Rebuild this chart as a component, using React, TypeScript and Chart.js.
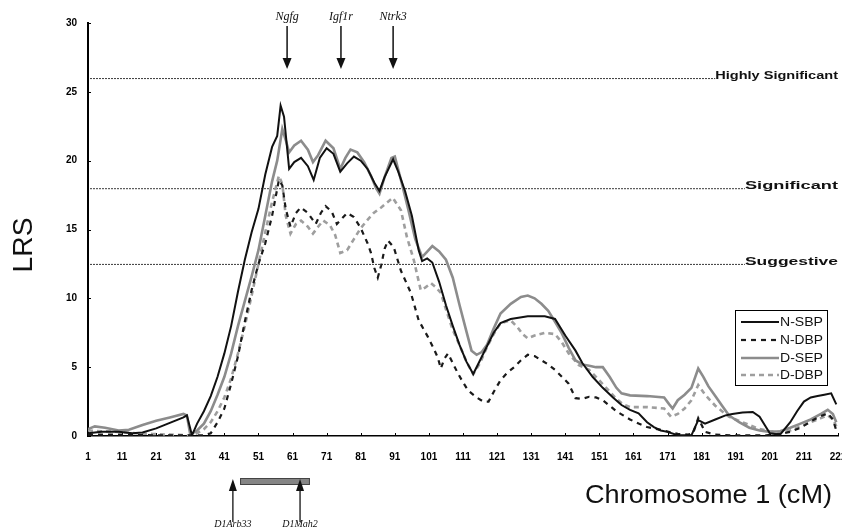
import React, { useEffect, useRef } from "react";
import { Chart, registerables } from "chart.js";

Chart.register(...registerables);

// ---- data ----
const xTickValues = [1, 11, 21, 31, 41, 51, 61, 71, 81, 91, 101, 111, 121, 131, 141, 151, 161, 171, 181, 191, 201, 211, 221];
const yMin = 0;
const yMax = 30;
const yStep = 5;

const seriesNames = ["N-SBP", "N-DBP", "D-SEP", "D-DBP"];

// [cM, LRS]
const nSbp = [
  [1, 0.2], [5, 0.3], [10, 0.3], [14, 0.2], [17, 0.25], [21, 0.55], [25, 0.95], [29, 1.35], [30, 1.5], [31.5, 0.05],
  [33, 0.9], [35, 1.8], [37, 2.9], [39, 4.3], [41, 6.0], [43, 8.0], [45, 10.5], [47, 12.8], [49, 14.8], [51, 16.5],
  [53, 19.0], [55, 21.0], [56.5, 21.8], [57.5, 24.0], [58.5, 23.2], [60, 19.4], [61.5, 19.9], [63.5, 20.2], [65.5, 19.6],
  [67.2, 18.6], [69, 20.2], [71, 20.9], [73, 20.5], [75, 19.2], [77, 19.8], [79, 20.3], [81, 20.0], [83, 19.4], [85, 18.4],
  [86.5, 17.8], [88, 18.8], [90.5, 20.1], [92, 19.2], [94, 17.8], [96, 16.0], [98, 13.5], [99, 12.7], [100.5, 12.9],
  [102, 12.6], [104, 11.2], [106, 9.5], [108, 8.0], [110, 6.6], [112, 5.4], [114, 4.5], [116, 5.5], [118, 6.5], [120, 7.5],
  [122, 8.2], [125, 8.5], [130, 8.7], [135, 8.7], [138, 8.5], [141, 7.3], [144, 6.2], [146, 5.3], [149, 4.3], [152, 3.5],
  [155, 2.8], [157.5, 2.25], [160, 1.9], [162.5, 1.65], [165, 1.0], [167, 0.65], [169, 0.4], [171, 0.3], [174, 0.05],
  [178, 0.05], [180, 1.15], [182, 0.9], [185, 1.2], [188, 1.5], [190, 1.6], [193, 1.7], [196, 1.75], [198, 1.4], [199.5, 0.8],
  [201, 0.2], [204, 0.1], [207, 1.0], [209, 1.8], [211, 2.5], [213, 2.8], [215, 2.9], [217, 3.0], [219, 3.1], [220.5, 2.3],
];

const nDbp = [
  [1, 0.1], [10, 0.1], [20, 0.05], [30, 0.05], [35, 0.05], [37, 0.2], [39, 1.0], [41, 2.0], [43, 3.8], [45, 5.8],
  [47, 8.3], [49, 10.6], [51, 12.5], [53, 14.0], [55, 16.0], [57, 18.6], [58, 18.2], [59, 16.5], [60.4, 15.2], [62, 16.2],
  [63.4, 16.6], [65.5, 16.2], [67.8, 15.4], [69.3, 16.2], [70.7, 16.7], [72.5, 16.3], [74, 15.4], [75.5, 15.8], [77, 16.2],
  [79, 15.9], [81, 15.1], [83, 14.0], [84, 13.3], [85, 12.2], [86, 11.5], [87, 12.4], [88, 13.6], [89, 14.2], [90.7, 13.7],
  [92.8, 12.0], [95.7, 10.4], [98, 8.4], [100.7, 7.2], [102.5, 6.3], [103.6, 5.7], [104.5, 4.9], [105.5, 5.6], [106.6, 6.0],
  [108, 5.3], [109.5, 4.55], [111, 3.9], [112.5, 3.3], [115, 2.8], [117, 2.5], [118.5, 2.5], [120, 3.2], [122, 4.05],
  [124, 4.6], [126, 5.0], [128, 5.5], [130, 5.9], [132, 5.8], [134, 5.5], [136, 5.2], [138, 4.8], [140, 4.3], [142, 3.8],
  [144, 2.75], [146, 2.7], [148, 2.85], [150, 2.8], [152, 2.6], [154, 2.2], [156, 1.8], [158, 1.5], [160, 1.2], [162.5, 0.9],
  [165, 0.65], [168, 0.5], [170, 0.4], [172, 0.25], [174, 0.15], [177, 0.1], [178.5, 0.2], [180, 1.3], [181, 0.8], [182, 0.3],
  [185, 0.1], [190, 0.05], [195, 0.05], [200, 0.05], [204, 0.15], [207, 0.3], [210, 0.6], [212, 0.9], [214, 1.2], [216, 1.45],
  [218, 1.65], [219.5, 1.2], [220.5, 0.4],
];

const dSep = [
  [1, 0.5], [3, 0.7], [6, 0.6], [10, 0.4], [13, 0.45], [17, 0.8], [21, 1.1], [25, 1.35], [29, 1.6], [30, 1.5], [31, 0.1],
  [33, 0.4], [35, 0.9], [37, 1.8], [39, 3.0], [41, 4.3], [43, 6.0], [45, 8.0], [47, 9.8], [49, 11.6], [51, 13.5], [53, 16.0],
  [55, 18.5], [56.5, 20.0], [58, 22.3], [59, 21.5], [60, 20.6], [61.5, 21.1], [63.5, 21.45], [65.5, 20.8], [67, 19.9],
  [68.5, 20.4], [70.7, 21.45], [73, 20.9], [75, 19.4], [76.5, 20.2], [78, 20.8], [80, 20.6], [82, 19.9], [84, 18.9],
  [85.5, 18.0], [86.5, 17.6], [88, 18.8], [90, 20.2], [91, 20.3], [93, 18.4], [95, 16.4], [97, 14.3], [99, 13.0],
  [100.5, 13.4], [102, 13.8], [104, 13.4], [106, 12.8], [108, 11.5], [110, 9.5], [112, 7.6], [113.5, 6.2], [115, 5.9],
  [116.5, 6.1], [118, 6.6], [120, 7.8], [122, 8.9], [125, 9.6], [128, 10.1], [130, 10.2], [132, 10.0], [134, 9.6], [136, 9.1],
  [138, 8.3], [140, 7.45], [142, 6.4], [144, 5.5], [146, 5.2], [148, 5.1], [150, 5.0], [152, 5.0], [154, 4.3], [156, 3.5],
  [157.5, 3.1], [160, 2.95], [165, 2.9], [170, 2.8], [171.5, 2.3], [172.5, 2.0], [174, 2.6], [176, 3.0], [178, 3.5],
  [180, 4.9], [181.5, 4.3], [183, 3.6], [185, 2.9], [187, 2.2], [189, 1.5], [192, 1.0], [195, 0.6], [198, 0.4], [201, 0.3],
  [204, 0.35], [207, 0.6], [210, 0.9], [213, 1.2], [216, 1.6], [218, 1.9], [219.5, 1.6], [220.5, 1.0],
];

const dDbp = [
  [1, 0.4], [5, 0.35], [10, 0.3], [15, 0.2], [20, 0.15], [25, 0.1], [31, 0.05], [33, 0.2], [35, 0.5], [37, 1.0], [39, 1.8],
  [41, 2.8], [43, 4.2], [45, 6.0], [47, 8.0], [49, 10.2], [51, 12.5], [53, 14.8], [55, 17.0], [57, 18.9], [58, 18.3],
  [59, 16.0], [60.4, 14.7], [62, 15.4], [63.5, 15.65], [65.5, 15.2], [67, 14.7], [68.5, 15.2], [70, 15.65], [72, 15.3],
  [73.5, 14.6], [75, 13.3], [77, 13.5], [79, 14.3], [81, 15.1], [83, 15.7], [84.8, 16.2], [87, 16.6], [90.4, 17.3],
  [92.8, 16.4], [94.5, 14.5], [96.6, 12.75], [98.6, 10.6], [100, 10.8], [101.6, 11.1], [103, 10.8], [104.5, 10.4],
  [106, 9.2], [108, 7.7], [110, 6.6], [112, 5.4], [114, 4.5], [116, 5.3], [118, 6.45], [120, 7.4], [122, 8.2], [125, 8.4],
  [127, 7.9], [128.5, 7.4], [130, 7.1], [132, 7.3], [135, 7.5], [138, 7.4], [140, 6.8], [142, 6.0], [145, 5.15], [148, 4.8],
  [150, 4.3], [153, 3.5], [156, 2.7], [158, 2.3], [160, 2.1], [165, 2.1], [170, 2.0], [172, 1.4], [174, 1.6], [176, 2.0],
  [178, 2.6], [180, 3.7], [182, 3.0], [185, 2.2], [189, 1.4], [192, 1.1], [195, 0.8], [198, 0.5], [201, 0.35], [204, 0.3],
  [207, 0.4], [210, 0.7], [213, 1.0], [216, 1.3], [218, 1.5], [219.5, 1.2], [220.5, 0.7],
];

const thresholdValues = [26, 18, 12.5];
const thresholdLabels = ["Highly Significant", "Significant", "Suggestive"];
const thresholdEndCm = [185, 193.7, 193.7];

const geneNames = ["Ngfg", "Igf1r", "Ntrk3"];
const geneCm = [59.4, 75.2, 90.5];

const markerNames = ["D1Arb33", "D1Mgh2"];
const markerCm = [43.5, 63.2];
const intervalCm = [45.6, 66.1];

const yTitle = "LRS";
const xTitle = "Chromosome 1 (cM)";

// ---- styles ----
const seriesStyles = [
  { color: "#111111", width: 2, dash: [] as number[] },
  { color: "#1a1a1a", width: 2.2, dash: [5, 5] },
  { color: "#8c8c8c", width: 2.6, dash: [] as number[] },
  { color: "#9e9e9e", width: 2.6, dash: [5, 4] },
];

function fitText(ctx: CanvasRenderingContext2D, text: string, x: number, y: number, width: number, align: CanvasTextAlign) {
  const m = ctx.measureText(text).width;
  const s = width / m;
  ctx.save();
  ctx.translate(x, y);
  ctx.scale(s, 1);
  ctx.textAlign = align;
  ctx.fillText(text, 0, 0);
  ctx.restore();
}

const overlayPlugin = {
  id: "overlay",
  beforeDatasetsDraw(chart: any) {
    const { ctx, chartArea, scales } = chart;
    const xs = scales.x;
    const ys = scales.y;
    ctx.save();
    thresholdValues.forEach((v, i) => {
      const y = ys.getPixelForValue(v);
      const x1 = xs.getPixelForValue(thresholdEndCm[i]);
      ctx.strokeStyle = "#3a3a3a";
      ctx.lineWidth = 1;
      ctx.setLineDash([2, 1]);
      ctx.beginPath();
      ctx.moveTo(chartArea.left + 2, y + 0.5);
      ctx.lineTo(x1, y + 0.5);
      ctx.stroke();
      ctx.setLineDash([]);
      ctx.fillStyle = "#111";
      ctx.font = 'bold 11px "Liberation Sans", Arial, sans-serif';
      ctx.textBaseline = "alphabetic";
      const right = chartArea.right;
      fitText(ctx, thresholdLabels[i], right, y + 1, right - x1, "right");
    });
    // tick marks
    ctx.strokeStyle = "#000";
    ctx.lineWidth = 1;
    xTickValues.forEach((v) => {
      const x = Math.round(xs.getPixelForValue(v)) + 0.5;
      ctx.beginPath();
      ctx.moveTo(x, chartArea.bottom);
      ctx.lineTo(x, chartArea.bottom - 3);
      ctx.stroke();
    });
    for (let v = yMin; v <= yMax; v += yStep) {
      const y = Math.round(ys.getPixelForValue(v)) + 0.5;
      ctx.beginPath();
      ctx.moveTo(chartArea.left, y);
      ctx.lineTo(chartArea.left + 3, y);
      ctx.stroke();
    }
    ctx.restore();
  },
  afterDatasetsDraw(chart: any) {
    const { ctx, chartArea, scales } = chart;
    const xs = scales.x;
    ctx.save();
    ctx.fillStyle = "#111";
    ctx.strokeStyle = "#111";

    // gene arrows at top
    geneNames.forEach((name, i) => {
      const x = xs.getPixelForValue(geneCm[i]);
      ctx.font = 'italic 12px "Liberation Serif", "DejaVu Serif", serif';
      ctx.textAlign = "center";
      ctx.textBaseline = "middle";
      ctx.fillText(name, x, 17);
      ctx.lineWidth = 1.5;
      ctx.beginPath();
      ctx.moveTo(x, 26);
      ctx.lineTo(x, 60);
      ctx.stroke();
      ctx.beginPath();
      ctx.moveTo(x - 4.5, 58);
      ctx.lineTo(x + 4.5, 58);
      ctx.lineTo(x, 69);
      ctx.closePath();
      ctx.fill();
    });

    // interval bar + markers at bottom
    const bx0 = xs.getPixelForValue(intervalCm[0]);
    const bx1 = xs.getPixelForValue(intervalCm[1]);
    ctx.fillStyle = "#858585";
    ctx.fillRect(bx0, 478, bx1 - bx0, 7);
    ctx.strokeStyle = "#444";
    ctx.lineWidth = 1;
    ctx.strokeRect(bx0 + 0.5, 478.5, bx1 - bx0 - 1, 6);
    ctx.fillStyle = "#111";
    ctx.strokeStyle = "#111";
    markerNames.forEach((name, i) => {
      const x = xs.getPixelForValue(markerCm[i]);
      ctx.lineWidth = 1.3;
      ctx.beginPath();
      ctx.moveTo(x, 522);
      ctx.lineTo(x, 488);
      ctx.stroke();
      ctx.beginPath();
      ctx.moveTo(x, 479);
      ctx.lineTo(x + 4, 491);
      ctx.lineTo(x - 4, 491);
      ctx.closePath();
      ctx.fill();
      ctx.font = 'italic 10px "Liberation Serif", "DejaVu Serif", serif';
      ctx.textAlign = "center";
      ctx.textBaseline = "alphabetic";
      ctx.fillText(name, x, 527);
    });

    // axis titles
    ctx.fillStyle = "#111";
    ctx.font = '26px "Liberation Sans", Arial, sans-serif';
    ctx.textBaseline = "alphabetic";
    fitText(ctx, xTitle, 585, 503, 247, "left");
    ctx.save();
    ctx.translate(32, 245);
    ctx.rotate(-Math.PI / 2);
    ctx.font = '28px "Liberation Sans", Arial, sans-serif';
    ctx.textBaseline = "alphabetic";
    fitText(ctx, yTitle, 0, 0, 55, "center");
    ctx.restore();

    // legend
    const lx = 735, ly = 310, lw = 92, lh = 75;
    ctx.fillStyle = "#fff";
    ctx.fillRect(lx, ly, lw, lh);
    ctx.strokeStyle = "#000";
    ctx.lineWidth = 1;
    ctx.strokeRect(lx + 0.5, ly + 0.5, lw, lh);
    const rows = [322, 340, 358, 375];
    seriesNames.forEach((name, i) => {
      const st = seriesStyles[i];
      ctx.strokeStyle = st.color;
      ctx.lineWidth = st.width;
      ctx.setLineDash(st.dash);
      ctx.beginPath();
      ctx.moveTo(lx + 6, rows[i]);
      ctx.lineTo(lx + 44, rows[i]);
      ctx.stroke();
      ctx.setLineDash([]);
      ctx.fillStyle = "#111";
      ctx.font = '12.5px "Liberation Sans", Arial, sans-serif';
      ctx.textBaseline = "middle";
      fitText(ctx, name, lx + 45, rows[i] + 1, 43, "left");
    });
    ctx.restore();
  },
};

export default function App() {
  const canvasRef = useRef<HTMLCanvasElement | null>(null);

  useEffect(() => {
    const canvas = canvasRef.current;
    if (!canvas) return;
    const allSeries = [nSbp, nDbp, dSep, dDbp];
    const chart = new Chart(canvas, {
      type: "line",
      data: {
        datasets: allSeries.map((s, i) => ({
          label: seriesNames[i],
          data: s.map(([x, y]) => ({ x, y })),
          borderColor: seriesStyles[i].color,
          borderWidth: seriesStyles[i].width,
          borderDash: seriesStyles[i].dash,
          pointRadius: 0,
          tension: 0,
          fill: false,
        })),
      },
      options: {
        animation: false,
        responsive: false,
        maintainAspectRatio: false,
        layout: { padding: { top: 23, right: 4, left: 0, bottom: 0 } },
        plugins: { legend: { display: false }, tooltip: { enabled: false } },
        scales: {
          x: {
            type: "linear",
            min: 1,
            max: 221,
            grid: { display: false, drawTicks: false },
            border: { display: true, color: "#000", width: 1.5 },
            afterBuildTicks: (s: any) => {
              s.ticks = xTickValues.map((v) => ({ value: v }));
            },
            afterFit: (s: any) => {
              s.height = 91;
              s.paddingLeft = 0;
              s.paddingRight = 0;
            },
            ticks: {
              autoSkip: false,
              maxRotation: 0,
              minRotation: 0,
              padding: 15,
              color: "#000",
              font: { family: '"Liberation Sans", Arial, sans-serif', size: 10, weight: "bold" },
            },
          },
          y: {
            min: yMin,
            max: yMax,
            grid: { display: false, drawTicks: false },
            border: { display: true, color: "#000", width: 2 },
            afterFit: (s: any) => {
              s.width = 88;
              s.paddingTop = 0;
              s.paddingBottom = 0;
            },
            ticks: {
              stepSize: yStep,
              padding: 11,
              color: "#000",
              font: { family: '"Liberation Sans", Arial, sans-serif', size: 10, weight: "bold" },
            },
          },
        },
      },
      plugins: [overlayPlugin],
    } as any);
    return () => chart.destroy();
  }, []);

  return (
    <div style={{ position: "fixed", left: 0, top: 0, width: 842, height: 527, background: "#fff" }}>
      <canvas ref={canvasRef} width={842} height={527} style={{ display: "block" }} />
    </div>
  );
}
